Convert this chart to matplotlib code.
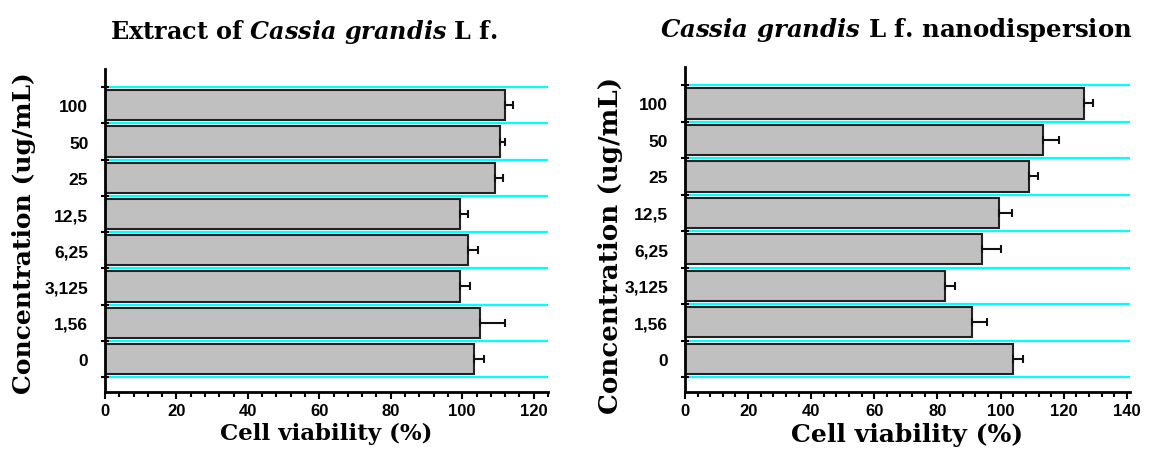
import numpy as np
import matplotlib
matplotlib.use("Agg")
from matplotlib import pyplot as plt
from matplotlib.ticker import MultipleLocator

# concentrations, bottom to top
conc = ["0", "1,56", "3,125", "6,25", "12,5", "25", "50", "100"]

extract_mean = [103.2, 105.1, 99.5, 101.6, 99.5, 109.1, 110.7, 111.9]
extract_err = [2.8, 6.8, 2.6, 2.9, 2.2, 2.4, 1.2, 2.4]

nano_mean = [103.9, 90.8, 82.3, 94.0, 99.5, 109.0, 113.4, 126.5]
nano_err = [3.3, 5.0, 3.4, 6.0, 4.2, 2.8, 5.0, 2.8]

plt.rcParams['mathtext.fontset'] = 'custom'
plt.rcParams['mathtext.it'] = 'DejaVu Serif:italic:bold'
plt.rcParams['mathtext.rm'] = 'DejaVu Serif:bold'

serif = 'DejaVu Serif'
sans = 'Liberation Sans'


def panel(ax, means, errs, xmax, title, tsize, tx, lsize, xlsize, ylab_xy):
    n = len(means)
    pos = np.arange(n)
    # cyan separators between bars
    for b in np.arange(-0.5, n, 1.0):
        ax.plot([0, xmax], [b, b], color='#00FFFF', lw=1.6, zorder=1)
    ax.barh(pos, means, height=0.83, color='#C0C0C0', edgecolor='#222222',
            linewidth=1.5, zorder=2)
    ax.errorbar(means, pos, xerr=[np.zeros(n), errs], fmt='none',
                ecolor='#111111', elinewidth=1.5, capsize=3, capthick=1.5, zorder=3)
    ax.set_xlim(0, xmax)
    ax.set_ylim(-0.91, 8.0)
    for s in ['top', 'right']:
        ax.spines[s].set_visible(False)
    for s in ['left', 'bottom']:
        ax.spines[s].set_linewidth(2)
    ax.set_yticks(pos)
    ax.set_yticklabels(conc, fontfamily=sans, fontweight='bold', fontsize=12.5)
    ax.tick_params(axis='y', which='major', length=0, pad=12)
    ax.set_yticks(np.arange(-0.5, n, 1.0), minor=True)
    ax.tick_params(axis='y', which='minor', direction='inout', length=6, width=1.5)
    ax.xaxis.set_major_locator(MultipleLocator(20))
    ax.xaxis.set_minor_locator(MultipleLocator(4))
    ax.tick_params(axis='x', which='major', direction='out', length=5, width=1.5, pad=3)
    ax.tick_params(axis='x', which='minor', direction='out', length=3.5, width=1.5)
    for lab in ax.get_xticklabels():
        lab.set_fontfamily(sans)
        lab.set_fontweight('bold')
        lab.set_fontsize(12)
    ax.set_xlabel("Cell viability (%)", fontfamily=serif, fontweight='bold',
                  fontsize=xlsize, labelpad=3)
    ax.set_ylabel("Concentration (ug/mL)", fontfamily=serif, fontweight='bold',
                  fontsize=lsize)
    ax.yaxis.set_label_coords(*ylab_xy)
    ax.set_title(title, fontfamily=serif, fontweight='bold', fontsize=tsize,
                 x=tx, pad=22)


fig = plt.figure(figsize=(11.51, 4.60), dpi=100)
ax1 = fig.add_axes([0.0912, 0.1457, 0.3849, 0.7021])
ax2 = fig.add_axes([0.5951, 0.1457, 0.3867, 0.7065])

panel(ax1, extract_mean, extract_err, 124, r"Extract of $Cassia\ grandis$ L f.",
      17.2, 0.449, 18, 16.5, (-0.155, 0.495))
panel(ax2, nano_mean, nano_err, 141, r"$Cassia\ grandis$ L f. nanodispersion",
      17.6, 0.474, 18.8, 18, (-0.14, 0.455))

fig.savefig("out.png", dpi=100)
